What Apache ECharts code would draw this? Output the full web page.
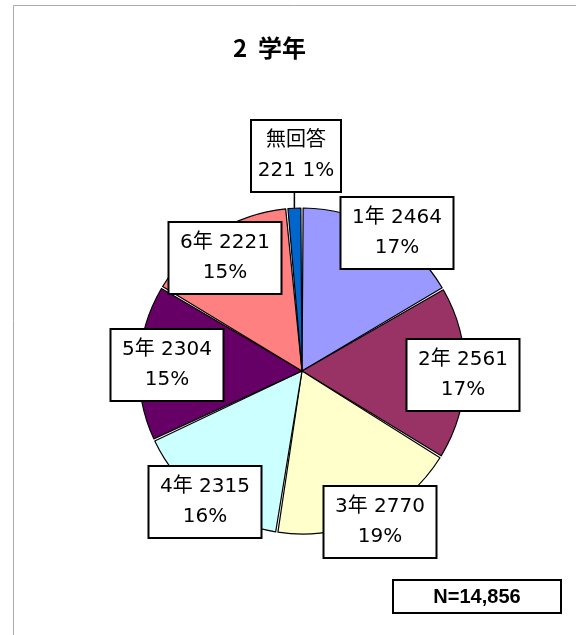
<!DOCTYPE html>
<html><head><meta charset="utf-8">
<script src="https://cdn.jsdelivr.net/npm/echarts@6/dist/echarts.min.js"></script>
<style>html,body{margin:0;padding:0;background:#fff}#c{width:576px;height:635px}</style>
</head><body><div id="c"></div>
<script>
const categories = ['1年','2年','3年','4年','5年','6年','無回答'];
const values = [2464, 2561, 2770, 2315, 2304, 2221, 221];
const percentLabels = ['17%','17%','19%','16%','15%','15%','1%'];
const colors = ['#9999FF','#993366','#FFFFCC','#CCFFFF','#660066','#FF8080','#0066CC'];
const titleText = '2  学年';
// label box centres (layout only)
const labelPos = [[397,233],[463,375],[380,522],[205,502],[167,365],[225,258],[296,156]];

const total = values.reduce((a,b)=>a+b,0);
const chart = echarts.init(document.getElementById('c'));
const font = '"DejaVu Sans", "Noto Sans CJK JP", sans-serif';
const data = categories.map((c,i)=>{
  const isNA = c === '無回答';
  return {
    name: c, value: values[i],
    itemStyle: {color: colors[i]},
    label: isNA ? {formatter: c + '\n' + values[i] + ' ' + percentLabels[i], width: 80, padding: [5, 4], overflow: 'none'} :
                  {formatter: c + ' ' + values[i] + '\n' + percentLabels[i], width: 99, overflow: 'none'},
    labelLine: {show: isNA}
  };
});
chart.setOption({
  animation: false,
  title: {text: titleText, left: 228, top: 31,
    textStyle: {fontFamily: '"Noto Sans CJK JP", sans-serif', fontSize: 24, fontWeight: 'bold', color: '#000'}},
  graphic: [
    {type:'line', shape:{x1:13.5,y1:5.5,x2:576,y2:5.5}, style:{stroke:'#aaa', lineWidth:1}},
    {type:'line', shape:{x1:13.5,y1:5.5,x2:13.5,y2:635}, style:{stroke:'#aaa', lineWidth:1}},
    {type:'rect', shape:{x:393,y:580,width:168,height:33}, style:{fill:'#fff', stroke:'#000', lineWidth:2}},
    {type:'text', x:477, y:597, style:{text:'N=' + total.toLocaleString('en-US'), align:'center', verticalAlign:'middle',
      font:'bold 20px "Liberation Sans", Arial, sans-serif', fill:'#000'}}
  ],
  series: [{
    type: 'pie',
    center: [302, 371],
    radius: 163,
    startAngle: 90,
    clockwise: true,
    padAngle: 0.8,
    data: data,
    itemStyle: {borderColor: '#000', borderWidth: 1.2},
    emphasis: {disabled: true},
    label: {
      show: true, position: 'outside',
      fontFamily: font, fontSize: 20, color: '#000', lineHeight: 30,
      align: 'center',
      backgroundColor: '#fff', borderColor: '#000', borderWidth: 2,
      padding: [5, 6]
    },
    labelLine: {length: 8, length2: 0, lineStyle: {color: '#000', width: 1.5}},
    labelLayout: function (p) {
      const pos = labelPos[p.dataIndex];
      const out = {x: pos[0], y: pos[1], align: 'center', verticalAlign: 'middle', hideOverlap: false};
      if (p.labelLinePoints) {
        const a = p.labelLinePoints[0];
        out.labelLinePoints = [[a[0], a[1]], [a[0], pos[1] + 35], [a[0], pos[1] + 35]];
      }
      return out;
    }
  }]
});
</script></body></html>
